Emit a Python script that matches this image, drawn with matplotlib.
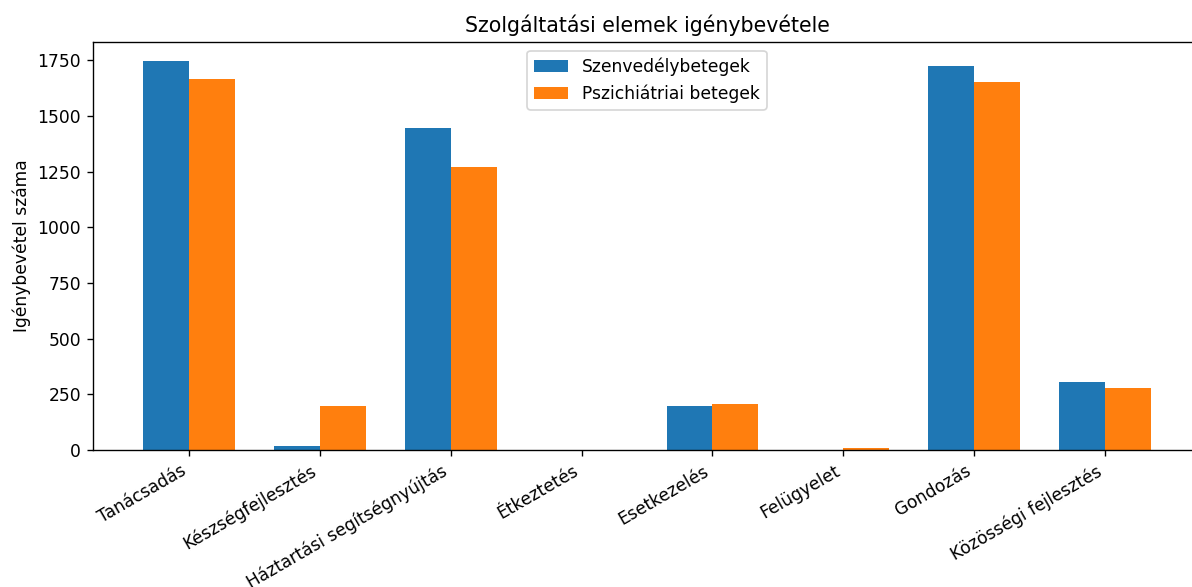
import matplotlib
matplotlib.use("Agg")
import matplotlib.pyplot as plt
import numpy as np

categories = ["Tanácsadás", "Készségfejlesztés", "Háztartási segítségnyújtás", "Étkeztetés",
              "Esetkezelés", "Felügyelet", "Gondozás", "Közösségi fejlesztés"]
szenvedely = [1745, 18, 1448, 0, 198, 0, 1723, 306]
pszichiatriai = [1664, 198, 1273, 0, 207, 8, 1651, 279]
series_labels = ["Szenvedélybetegek", "Pszichiátriai betegek"]

W, H = 1192, 587
DPI = 123
fig = plt.figure(figsize=(W / DPI, H / DPI), dpi=DPI)
left, right, top, bottom = 93, 1201, 42, 450
ax = fig.add_axes([left / W, 1 - bottom / H, (right - left) / W, (bottom - top) / H])

x = np.arange(len(categories))
w = 0.35
ax.bar(x - w / 2, szenvedely, w, label=series_labels[0], color="#1f77b4")
ax.bar(x + w / 2, pszichiatriai, w, label=series_labels[1], color="#ff7f0e")
ax.set_xticks(x)
ax.set_xticklabels(categories, rotation=30, ha="right")
ax.set_ylabel("Igénybevétel száma")
ax.set_title("Szolgáltatási elemek igénybevétele")
ax.legend(loc="upper center")

fig.savefig("out.png", dpi=DPI)
